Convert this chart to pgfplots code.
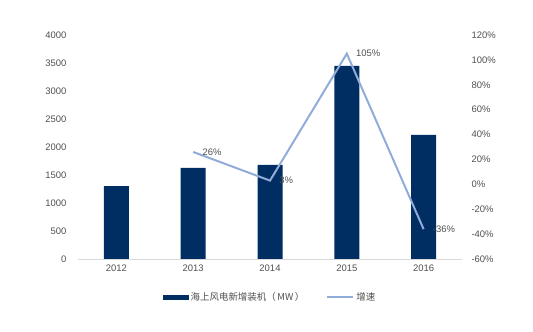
\documentclass[border=0pt]{standalone}
\usepackage{pgfplots}
\pgfplotsset{compat=1.18}
\usepackage{fontspec}
\setmainfont{Liberation Sans}
\newfontfamily\cjk{Noto Sans CJK SC}
\definecolor{navy}{RGB}{0,45,98}
\definecolor{lblue}{RGB}{146,172,218}
\definecolor{tgray}{RGB}{80,80,80}
\begin{document}
\begin{tikzpicture}
\path[use as bounding box] (0,0) rectangle (533bp,332bp);
\begin{axis}[
  at={(78bp,73bp)}, anchor=south west,
  scale only axis, width=384bp, height=224bp,
  xmin=-0.5, xmax=4.5, ymin=0, ymax=4000,
  ytick={0,500,...,4000},
  xtick={0,1,2,3,4}, xticklabels={2012,2013,2014,2015,2016},
  axis x line*=bottom, axis y line*=left,
  x axis line style={draw=black!15, line width=0.8pt, -},
  y axis line style={draw=none},
  yticklabel style={font=\fontsize{9.5}{11}\selectfont, text=tgray, xshift=-8bp},
  xticklabel style={font=\fontsize{9.5}{11}\selectfont, text=tgray, yshift=-2bp},
  major tick length=0pt,
  /pgf/number format/assume math mode=true,
  /pgf/number format/1000 sep={},
  legend style={at={(0.5,-0.13)}, anchor=north, draw=none, font=\fontsize{9.5}{11}\selectfont\cjk, text=tgray, legend columns=2, /tikz/every even column/.append style={column sep=20bp}},
  legend image code/.code={\fill[#1] (0bp,-2.5bp) rectangle (26bp,2.5bp);},
  clip=false,
]
\addplot[ybar, bar width=25bp, fill=navy, draw=none] coordinates {(0,1300) (1,1625) (2,1680) (3,3450) (4,2215)};
\addlegendentry{海上风电新增装机（\,MW\,）}
\addlegendimage{legend image code/.code={\draw[lblue, line width=2pt] (0bp,0bp) -- (26bp,0bp);}}
\addlegendentry{增速}
\end{axis}
\begin{axis}[
  at={(78bp,73bp)}, anchor=south west,
  scale only axis, width=384bp, height=224bp,
  xmin=-0.5, xmax=4.5, ymin=-60, ymax=120,
  ytick={-60,-40,...,120},
  yticklabel={\pgfmathprintnumber{\tick}\%},
  axis x line=none, axis y line*=right,
  y axis line style={draw=none},
  yticklabel style={font=\fontsize{9.5}{11}\selectfont, text=tgray, xshift=6bp},
  major tick length=0pt,
  /pgf/number format/assume math mode=true,
  clip=false,
]
\addplot[lblue, line width=2pt, nodes near coords={\pgfmathprintnumber{\pgfplotspointmeta}\%},
  point meta=explicit, every node near coord/.append style={font=\fontsize{9.5}{11}\selectfont, text=tgray, anchor=west, xshift=5bp}]
  coordinates {(1,26)[26] (2,3)[3] (3,105)[105] (4,-36)[-36]};
\end{axis}
\end{tikzpicture}
\end{document}
